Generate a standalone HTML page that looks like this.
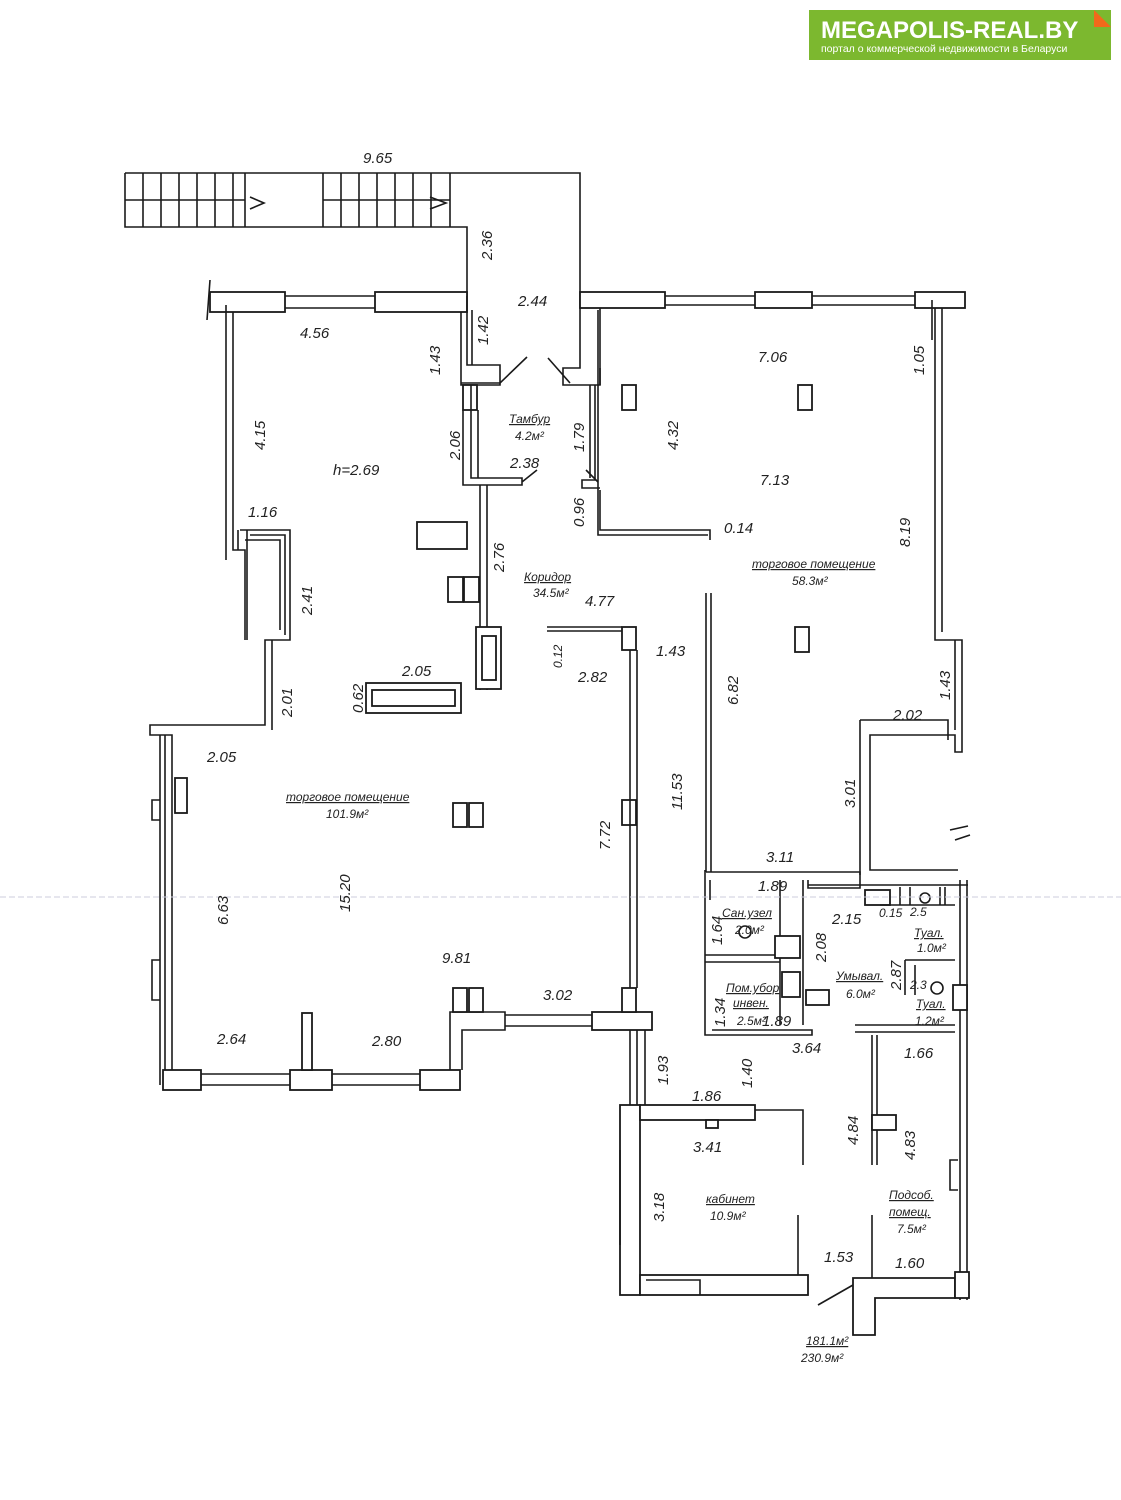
<!DOCTYPE html>
<html><head><meta charset="utf-8"><style>
html,body{margin:0;padding:0;background:#fff}
svg{display:block}
.l{fill:none;stroke:#1a1a1a;stroke-width:1.6}
.w{fill:#fff;stroke:#1a1a1a;stroke-width:1.8}
.b{fill:none;stroke:#1a1a1a;stroke-width:2.5}
text{font-family:"Liberation Sans",sans-serif;font-style:italic;fill:#222;font-size:15px}
.s{font-size:12px}
.u{text-decoration:underline}
</style></head><body>
<svg width="1121" height="1500" viewBox="0 0 1121 1500" xmlns="http://www.w3.org/2000/svg">
<!-- logo -->
<rect x="809" y="10" width="302" height="50" fill="#7cb82f"/>
<polygon points="1094,10 1111,27 1094,27" fill="#f26a1b"/>
<text x="821" y="38" style="font-style:normal;font-weight:bold;font-size:24px;fill:#fff">MEGAPOLIS-REAL.BY</text>
<text x="821" y="52" style="font-style:normal;font-size:10.5px;fill:#fff">портал о коммерческой недвижимости в Беларуси</text>

<!-- stairs -->
<path class="l" d="M125,173 H580 V296 M125,173 V227 H467 V296 M125,200 H245 M323,200 H450 M323,173 V227"/>
<g class="l">
<path d="M143,173V227M161,173V227M179,173V227M197,173V227M215,173V227M233,173V227M245,173V227"/>
<path d="M341,173V227M359,173V227M377,173V227M395,173V227M413,173V227M431,173V227M450,173V227"/>
<path d="M250,197 L264,203 L250,209 M430,197 L446,203 L430,209"/>
</g>
<!-- top left wall -->
<rect class="w" x="210" y="292" width="75" height="20"/>
<rect class="w" x="375" y="292" width="92" height="20"/>
<path class="l" d="M285,296 H375 M285,308 H375 M210,280 L207,320"/>
<!-- left wall -->
<path class="l" d="M226,305 V560 M233,312 V550 H238 M240,530 H290 V640 H265 V725 H150 V735 H172 V1085 M233,550 H245 V640 M247,530 V640 M238,530 V550"/>
<path class="l" d="M250,535 H285 V635 M245,540 H280 V630 M272,640 V730 M160,735 V1085 M165,735 V1085"/>
<rect class="w" x="175" y="778" width="12" height="35"/>
<path class="l" d="M160,800 H152 V820 H160 M160,960 H152 V1000 H160"/>
<!-- bottom wall -->
<rect class="w" x="163" y="1070" width="38" height="20"/>
<rect class="w" x="290" y="1070" width="42" height="20"/>
<rect class="w" x="420" y="1070" width="40" height="20"/>
<path class="l" d="M201,1074 H290 M201,1085 H290 M332,1074 H420 M332,1085 H420"/>
<rect class="w" x="302" y="1013" width="10" height="57"/>
<path class="l" d="M450,1070 V1012 H505 V1030 H462 V1070"/>
<rect class="w" x="592" y="1012" width="60" height="18"/>
<path class="l" d="M505,1015 H592 M505,1026 H592"/>
<rect class="w" x="453" y="988" width="14" height="24"/><rect class="w" x="469" y="988" width="14" height="24"/>
<!-- corridor right wall -->
<rect class="w" x="622" y="627" width="14" height="23"/>
<rect class="w" x="622" y="800" width="14" height="25"/>
<rect class="w" x="622" y="988" width="14" height="24"/>
<path class="l" d="M630,650 V988 M637,650 V988 M547,627 H622 M547,631 H622 M630,1030 V1105 M637,1030 V1105 M645,1030 V1105"/>
<!-- tambour -->
<path class="l" d="M467,296 V365 H472 V310 M461,312 V383 H500 V365 M467,365 H500 V385 H461 V312"/>
<rect class="w" x="463" y="385" width="14" height="25"/>
<path class="l" d="M463,410 V485 H522 V478 H471 V385 M478,410 V478 M480,485 V690 M487,485 V690 M500,383 L527,357 M548,358 L570,383 M522,482 L537,470 M586,470 L598,482"/>
<path class="l" d="M580,296 V368 H563 V385 H600 V368 M595,385 V480 H582 V488 H600 M590,385 V478"/>
<!-- corridor fixtures -->
<rect class="w" x="417" y="522" width="50" height="27"/>
<rect class="w" x="448" y="577" width="15" height="25"/><rect class="w" x="464" y="577" width="15" height="25"/>
<rect class="w" x="476" y="627" width="25" height="62"/><rect class="w" x="482" y="636" width="14" height="44"/>
<rect class="w" x="366" y="683" width="95" height="30"/><rect class="w" x="372" y="690" width="83" height="16"/>
<rect class="w" x="453" y="803" width="14" height="24"/><rect class="w" x="469" y="803" width="14" height="24"/>
<!-- right top -->
<rect class="w" x="580" y="292" width="85" height="16"/>
<rect class="w" x="755" y="292" width="57" height="16"/>
<rect class="w" x="915" y="292" width="50" height="16"/>
<path class="l" d="M665,296 H755 M665,305 H755 M812,296 H915 M812,305 H915"/>
<path class="l" d="M600,385 V308 M598,310 V492 M600,490 V530 H710 V540 M598,490 V535 H708"/>
<path class="l" d="M935,308 V640 H962 V752 H955 V735 H870 V870 H958 M942,308 V632 M955,640 V730 M860,720 H948 V740 M860,720 V875 M870,740 V868 M932,300 V340"/>
<path class="l" d="M950,830 L968,826 M955,840 L970,835"/>
<rect class="w" x="798" y="385" width="14" height="25"/>
<rect class="w" x="622" y="385" width="14" height="25"/>
<rect class="w" x="795" y="627" width="14" height="25"/>
<path class="l" d="M706,593 V872 M711,593 V872"/>
<!-- wet block -->
<path class="l" d="M706,872 H860 V888 H808 V880 M705,870 V1035 H812 V1030 H712 M710,880 V900 M705,955 H780 M705,962 H780 M780,880 V1025 M803,880 V1025 M808,885 H968"/>
<rect class="w" x="775" y="936" width="25" height="22"/>
<rect class="w" x="782" y="972" width="18" height="25"/>
<rect class="w" x="806" y="990" width="23" height="15"/>
<rect class="w" x="865" y="890" width="25" height="15"/>
<path class="l" d="M880,905 H955 M900,887 V905 M910,887 V905 M940,887 V905 M945,887 V905 M905,960 H955 M905,960 V995 M915,965 V995 M960,880 V1300 M967,880 V1300 M855,1025 H955 M855,1032 H955"/>
<rect class="w" x="953" y="985" width="14" height="25"/>
<circle class="l" cx="925" cy="898" r="5"/><circle class="l" cx="937" cy="988" r="6"/><circle class="l" cx="745" cy="932" r="6"/>
<!-- kabinet -->
<rect class="w" x="620" y="1105" width="20" height="190"/>
<rect class="w" x="640" y="1105" width="115" height="15"/>
<rect class="w" x="640" y="1275" width="168" height="20"/>
<path class="l" d="M755,1110 H803 V1165 M798,1215 V1275 M620,1150 V1245 M646,1280 H700 V1295"/>
<rect class="w" x="706" y="1120" width="12" height="8"/>
<!-- podsob -->
<path class="l" d="M872,1035 V1165 M877,1035 V1165 M872,1215 V1278"/>
<rect class="w" x="872" y="1115" width="24" height="15"/>
<path class="l" d="M958,1160 H950 V1190 H958"/>
<path class="w" d="M853,1278 H955 V1298 H875 V1335 H853 Z"/>
<rect class="w" x="955" y="1272" width="14" height="26"/>
<path class="l" d="M818,1305 L853,1285"/>
<!-- faint scan line -->
<path d="M0,897 H1121" stroke="#ccd" stroke-width="1" stroke-dasharray="6,3"/>

<!-- labels -->
<text x="363" y="163">9.65</text>
<text x="518" y="306">2.44</text>
<text x="300" y="338">4.56</text>
<text x="758" y="362">7.06</text>
<text x="760" y="485">7.13</text>
<text x="724" y="533">0.14</text>
<text x="333" y="475">h=2.69</text>
<text x="248" y="517">1.16</text>
<text x="510" y="468">2.38</text>
<text x="585" y="606">4.77</text>
<text x="578" y="682">2.82</text>
<text x="656" y="656">1.43</text>
<text x="402" y="676">2.05</text>
<text x="207" y="762">2.05</text>
<text x="893" y="720">2.02</text>
<text x="766" y="862">3.11</text>
<text x="442" y="963">9.81</text>
<text x="543" y="1000">3.02</text>
<text x="217" y="1044">2.64</text>
<text x="372" y="1046">2.80</text>
<text x="758" y="891">1.89</text>
<text x="832" y="924">2.15</text>
<text x="762" y="1026">1.89</text>
<text x="792" y="1053">3.64</text>
<text x="904" y="1058">1.66</text>
<text x="692" y="1101">1.86</text>
<text x="693" y="1152">3.41</text>
<text x="824" y="1262">1.53</text>
<text x="895" y="1268">1.60</text>
<text class="s" x="879" y="917">0.15</text>
<text class="s" x="910" y="916">2.5</text>
<text class="s" x="910" y="989">2.3</text>
<text class="u s" x="509" y="423">Тамбур</text>
<text class="s" x="515" y="440">4.2м²</text>
<text class="u s" x="524" y="581">Коридор</text>
<text class="s" x="533" y="597">34.5м²</text>
<text class="u s" x="752" y="568">торговое помещение</text>
<text class="s" x="792" y="585">58.3м²</text>
<text class="u s" x="286" y="801">торговое помещение</text>
<text class="s" x="326" y="818">101.9м²</text>
<text class="u s" x="722" y="917">Сан.узел</text>
<text class="s" x="735" y="934">2.0м²</text>
<text class="u s" x="726" y="992">Пом.убор</text>
<text class="u s" x="733" y="1007">инвен.</text>
<text class="s" x="737" y="1025">2.5м²</text>
<text class="u s" x="836" y="980">Умывал.</text>
<text class="s" x="846" y="998">6.0м²</text>
<text class="u s" x="914" y="937">Туал.</text>
<text class="s" x="917" y="952">1.0м²</text>
<text class="u s" x="916" y="1008">Туал.</text>
<text class="s" x="915" y="1025">1.2м²</text>
<text class="u s" x="706" y="1203">кабинет</text>
<text class="s" x="710" y="1220">10.9м²</text>
<text class="u s" x="889" y="1199">Подсоб.</text>
<text class="u s" x="889" y="1216">помещ.</text>
<text class="s" x="897" y="1233">7.5м²</text>
<text class="u s" x="806" y="1345">181.1м²</text>
<text class="s" x="801" y="1362">230.9м²</text>
<!-- vertical -->
<g>
<text transform="translate(492,260) rotate(-90)">2.36</text>
<text transform="translate(488,345) rotate(-90)">1.42</text>
<text transform="translate(440,375) rotate(-90)">1.43</text>
<text transform="translate(265,450) rotate(-90)">4.15</text>
<text transform="translate(460,460) rotate(-90)">2.06</text>
<text transform="translate(584,452) rotate(-90)">1.79</text>
<text transform="translate(584,527) rotate(-90)">0.96</text>
<text transform="translate(678,450) rotate(-90)">4.32</text>
<text transform="translate(924,375) rotate(-90)">1.05</text>
<text transform="translate(910,547) rotate(-90)">8.19</text>
<text transform="translate(504,572) rotate(-90)">2.76</text>
<text transform="translate(312,615) rotate(-90)">2.41</text>
<text transform="translate(292,717) rotate(-90)">2.01</text>
<text transform="translate(363,713) rotate(-90)">0.62</text>
<text class="s" transform="translate(562,668) rotate(-90)">0.12</text>
<text transform="translate(738,705) rotate(-90)">6.82</text>
<text transform="translate(950,700) rotate(-90)">1.43</text>
<text transform="translate(855,808) rotate(-90)">3.01</text>
<text transform="translate(682,810) rotate(-90)">11.53</text>
<text transform="translate(610,850) rotate(-90)">7.72</text>
<text transform="translate(350,912) rotate(-90)">15.20</text>
<text transform="translate(228,925) rotate(-90)">6.63</text>
<text transform="translate(722,945) rotate(-90)">1.64</text>
<text transform="translate(826,962) rotate(-90)">2.08</text>
<text transform="translate(901,990) rotate(-90)">2.87</text>
<text transform="translate(725,1027) rotate(-90)">1.34</text>
<text transform="translate(668,1085) rotate(-90)">1.93</text>
<text transform="translate(752,1088) rotate(-90)">1.40</text>
<text transform="translate(858,1145) rotate(-90)">4.84</text>
<text transform="translate(915,1160) rotate(-90)">4.83</text>
<text transform="translate(664,1222) rotate(-90)">3.18</text>
</g>
</svg>
</body></html>
